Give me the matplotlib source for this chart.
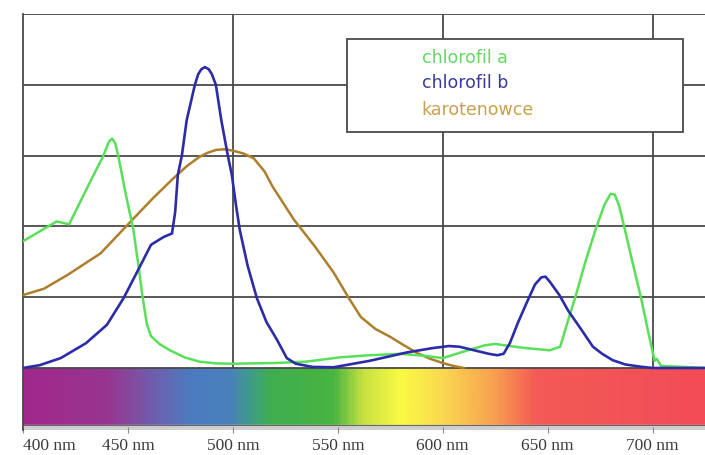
import numpy as np
import matplotlib.pyplot as plt
from matplotlib.colors import LinearSegmentedColormap
from matplotlib.patches import Rectangle

# absorption curves (wavelength nm, relative absorbance)
CHL_A_NM = [400, 404, 408, 412, 416, 419, 422, 427, 432, 438, 441, 442.5, 444, 445.5, 449,
            452.5, 455, 457, 459, 461, 465, 470, 477, 484, 492, 500, 520, 535, 551, 565,
            580, 592, 600, 612, 620, 625, 632, 640, 651, 656, 659, 663, 668, 673, 677,
            680, 682, 684, 686.7, 690, 694.6, 698, 701, 702, 704, 725]
CHL_A = [1.79, 1.86, 1.93, 2.0, 2.07, 2.05, 2.03, 2.33, 2.63, 2.98, 3.2, 3.24, 3.17, 2.98, 2.45,
         1.97, 1.45, 1.0, 0.62, 0.45, 0.34, 0.25, 0.15, 0.09, 0.065, 0.06, 0.07, 0.09, 0.15, 0.18,
         0.2, 0.17, 0.14, 0.25, 0.32, 0.34, 0.31, 0.28, 0.25, 0.3, 0.6, 0.98, 1.5, 1.97, 2.3,
         2.46, 2.45, 2.3, 1.97, 1.55, 0.98, 0.5, 0.1, 0.13, 0.03, 0.0]

CHL_B_NM = [400, 408, 418, 430, 440, 448, 456, 461, 467, 471, 472.5, 473.8, 475.7, 478, 481.9,
            483.5, 485, 486.7, 488.5, 490, 491.9, 494.5, 497.6, 499.5, 501.5, 503.3, 507, 511.4,
            516, 521, 525.7, 530, 538, 548, 565, 583, 595, 603, 608, 615, 622, 626, 629, 632,
            636, 640, 644, 647, 649, 651, 655.6, 660, 665.2, 671.6, 676, 681, 687, 693.8, 700, 725]
CHL_B = [0.0, 0.04, 0.14, 0.35, 0.61, 0.99, 1.45, 1.74, 1.85, 1.9, 2.2, 2.73, 3.0, 3.5, 4.0,
         4.15, 4.22, 4.25, 4.22, 4.15, 4.0, 3.5, 3.0, 2.73, 2.3, 1.95, 1.45, 0.99,
         0.65, 0.4, 0.14, 0.06, 0.015, 0.01, 0.1, 0.22, 0.28, 0.31, 0.3, 0.25, 0.2, 0.18, 0.2, 0.35,
         0.65, 0.92, 1.18, 1.28, 1.29, 1.22, 1.03, 0.8, 0.58, 0.3, 0.2, 0.11, 0.05, 0.02, 0.0, 0.0]

CAROT_NM = [400, 410, 421, 437, 452, 462, 471, 478, 484, 488, 492, 496, 500, 505, 510,
            515, 519, 524, 529, 539, 548, 555, 561, 568, 575, 581, 588, 594, 600, 605, 610]
CAROT = [1.03, 1.12, 1.31, 1.62, 2.09, 2.4, 2.66, 2.85, 2.98, 3.04, 3.08, 3.09, 3.07, 3.03, 2.96,
         2.78, 2.56, 2.33, 2.1, 1.72, 1.35, 1.0, 0.72, 0.55, 0.44, 0.33, 0.21, 0.13, 0.07, 0.03, 0.0]

SERIES = ["chlorofil a", "chlorofil b", "karotenowce"]
LINE_COLORS = ["#58e058", "#2c2ca8", "#ad7e2c"]
TEXT_COLORS = ["#62d862", "#3a3a9c", "#c9a04e"]

TICK_NM = [400, 450, 500, 550, 600, 650, 700]
TICK_LABELS = ["400 nm", "450 nm", "500 nm", "550 nm", "600 nm", "650 nm", "700 nm"]
GRID_NM = [500, 600, 700]

# visible spectrum colour stops
SPEC_NM = [400, 440, 462, 480, 498, 508, 518, 548, 562, 580, 600, 625, 645, 725]
SPEC_COL = ["#a0288c", "#983590", "#6f5fae", "#4a7cc0", "#4a80bc", "#3f9c8c", "#3fae50",
            "#48b440", "#c6e040", "#fafa44", "#fad850", "#f8a050", "#f45a55", "#f24c58"]

X0, X1 = 400, 725
BAR_H = 0.805
STRIP = 0.876

fig = plt.figure(figsize=(7.05, 4.55), dpi=100)
ax = fig.add_axes([23 / 705, 1 - 430 / 455, 1 - 23 / 705, 416 / 455])
ax.set_xlim(X0, X1)
ax.set_ylim(-STRIP, 5.0)

# spectrum bar
pos = [(n - X0) / (X1 - X0) for n in SPEC_NM]
cmap = LinearSegmentedColormap.from_list("spec", list(zip(pos, SPEC_COL)))
grad = np.linspace(0, 1, 600).reshape(1, -1)
ax.imshow(grad, cmap=cmap, extent=[X0, X1, -BAR_H, 0], aspect="auto", zorder=1)
ax.axhspan(-STRIP, -BAR_H, color="#cfcfcf", zorder=1)
ax.axhline(-BAR_H, color="#6a6a6a", lw=0.8, zorder=2)

# grid
for yv in range(0, 6):
    ax.axhline(yv, color="#4a4a4a", lw=1.3, zorder=2)
ax.vlines(GRID_NM, 0, 5, color="#4a4a4a", lw=1.3, zorder=2)

# curves
ax.plot(CAROT_NM, CAROT, color=LINE_COLORS[2], lw=1.8, zorder=3)
ax.plot(CHL_A_NM, CHL_A, color=LINE_COLORS[0], lw=1.8, zorder=3)
ax.plot(CHL_B_NM, CHL_B, color=LINE_COLORS[1], lw=1.9, zorder=4)

# legend box
ax.add_patch(Rectangle((554.3, 3.33), 160, 1.32, facecolor="white",
                       edgecolor="#4a4a4a", lw=1.3, zorder=5))
for label, col, yy in zip(SERIES, TEXT_COLORS, [4.38, 4.03, 3.64]):
    ax.text(590, yy, label, color=col, fontsize=12.5, family="DejaVu Sans",
            va="center", ha="left", zorder=6)

# axes
for side in ["top", "right", "bottom"]:
    ax.spines[side].set_visible(False)
ax.spines["left"].set_color("#4a4a4a")
ax.spines["left"].set_linewidth(1.3)
ax.set_yticks([])
ax.set_xticks(TICK_NM)
ax.set_xticklabels(TICK_LABELS, family="Liberation Serif", fontsize=12.5, color="#3a3a3a")
ax.tick_params(axis="x", direction="inout", length=5, color="#888888", pad=3)
ax.get_xticklabels()[0].set_horizontalalignment("left")

fig.savefig("out.png", dpi=100)
